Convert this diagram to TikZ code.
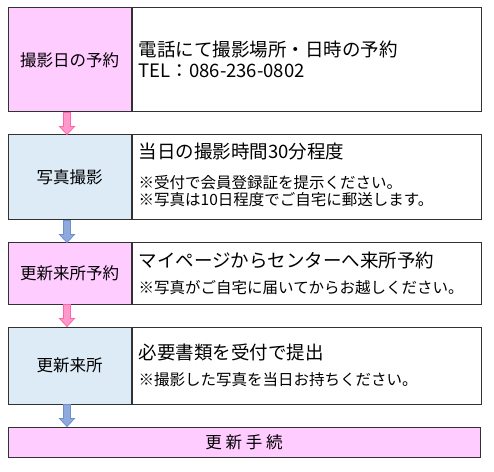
\documentclass[tikz,border=0pt]{standalone}
\usepackage{fontspec}
\setmainfont{Noto Sans CJK JP}
\usepackage{tikz}
\usetikzlibrary{calc, positioning}
\definecolor{stepbg}{RGB}{255, 204, 255}
\definecolor{shootbg}{RGB}{221, 235, 247}
\definecolor{pinkarrow}{RGB}{255, 153, 204}
\definecolor{pinkedge}{RGB}{255, 102, 170}
\definecolor{bluearrow}{RGB}{142, 169, 219}
\definecolor{blueedge}{RGB}{110, 143, 207}
\definecolor{cellborder}{RGB}{50, 50, 50}

% block arrow from one step cell down to the next
\newcommand{\flowarrow}[4]{%
  \filldraw[fill=#3, draw=#4, line width=.8pt]
    let \p1=([xshift=-2.5pt]#1.south), \p2=([xshift=-2.5pt]#2.north) in
    (\x1-3.5pt,\y1) -- (\x1+3.5pt,\y1) -- (\x1+3.5pt,\y2+8pt) -- (\x1+7.5pt,\y2+8pt)
    -- (\x1,\y2) -- (\x1-7.5pt,\y2+8pt) -- (\x1-3.5pt,\y2+8pt) -- cycle;}

\begin{document}
\begin{tikzpicture}[x=1pt, y=1pt,
    stepcell/.style={draw=cellborder, line width=1pt, minimum width=123pt, inner sep=0pt,
      font=\fontsize{16.5}{20}\selectfont},
    infocell/.style={draw=cellborder, line width=1pt, minimum width=349pt, anchor=west, inner sep=0pt},
    mainline/.style={anchor=west, inner sep=0pt, font=\fontsize{18.5}{22}\selectfont},
    noteline/.style={anchor=west, inner sep=0pt, font=\fontsize{15.5}{19}\selectfont}]
    \useasboundingbox (0,0) rectangle (494,471);

    % Reservation
    \node[stepcell, fill=stepbg, minimum height=104pt] (step1) at (69.5,411) {撮影日の予約};
    \node[infocell, minimum height=104pt] (info1) at (step1.east) {};
    \node[mainline] (line1a) at ($(info1.west)+(7,10)$) {電話にて撮影場所・日時の予約};
    \node[mainline] (line1b) at ($(info1.west)+(7,-11)$) {TEL：086-236-0802};

    % Photo
    \node[stepcell, fill=shootbg, minimum height=85pt] (step2) at (69.5,293.5) {写真撮影};
    \node[infocell, minimum height=85pt] (info2) at (step2.east) {};
    \node[mainline] (line2a) at ($(info2.west)+(7,25.5)$) {当日の撮影時間30分程度};
    \node[noteline] (line2b) at ($(info2.west)+(7,-5.5)$) {※受付で会員登録証を提示ください。};
    \node[noteline] (line2c) at ($(info2.west)+(7,-22.5)$) {※写真は10日程度でご自宅に郵送します。};

    % Visit reservation
    \node[stepcell, fill=stepbg, minimum height=61pt] (step3) at (69.5,197.5) {更新来所予約};
    \node[infocell, minimum height=61pt] (info3) at (step3.east) {};
    \node[mainline] (line3a) at ($(info3.west)+(7,13.5)$) {マイページからセンターへ来所予約};
    \node[noteline] (line3b) at ($(info3.west)+(7,-14.5)$) {※写真がご自宅に届いてからお越しください。};

    % Visit
    \node[stepcell, fill=shootbg, minimum height=77pt] (step4) at (69.5,105.5) {更新来所};
    \node[infocell, minimum height=77pt] (info4) at (step4.east) {};
    \node[mainline] (line4a) at ($(info4.west)+(7,13.5)$) {必要書類を受付で提出};
    \node[noteline] (line4b) at ($(info4.west)+(7,-14.5)$) {※撮影した写真を当日お持ちください。};

    % Renewal
    \node[stepcell, fill=stepbg, minimum width=472pt, minimum height=30pt] (step5) at (244,29) {更 新 手 続};

    % Arrows
    \flowarrow{step1}{step2}{pinkarrow}{pinkedge}
    \flowarrow{step2}{step3}{bluearrow}{blueedge}
    \flowarrow{step3}{step4}{pinkarrow}{pinkedge}
    \flowarrow{step4}{step5}{bluearrow}{blueedge}
\end{tikzpicture}
\end{document}
